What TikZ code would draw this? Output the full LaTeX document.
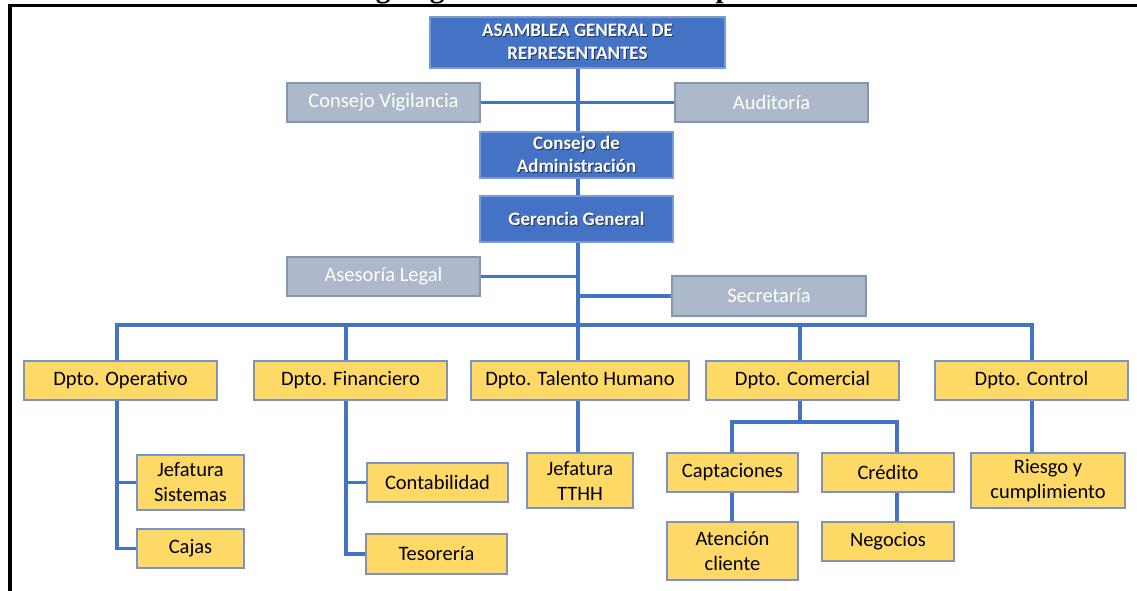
\documentclass[tikz,border=0pt]{standalone}
\usepackage{fontspec}
\setmainfont{Carlito}
\newfontfamily\titlefont{Liberation Serif}
\definecolor{bluef}{HTML}{4472C4}
\definecolor{bbord}{HTML}{7A9AD6}
\definecolor{grayf}{HTML}{ADB9CA}
\definecolor{gbord}{HTML}{8497B0}
\definecolor{yelf}{HTML}{FFD966}
\definecolor{ybord}{HTML}{7F93BA}
\definecolor{connc}{HTML}{4472C4}
\definecolor{shadowc}{HTML}{26355A}
\newcommand{\shd}[1]{\leavevmode\rlap{\kern1pt\raisebox{-1pt}{\color{shadowc}#1}}#1}
\begin{document}
\begin{tikzpicture}[x=1pt,y=-1pt,
  boxbase/.style={draw, line width=1.2pt, inner sep=0pt, align=center},
  yb/.style={boxbase, fill=yelf, draw=ybord, text=black, font=\fontsize{20.5}{25}\selectfont},
  gb/.style={boxbase, fill=grayf, draw=gbord, text=white, font=\fontsize{20.5}{24}\selectfont},
  bb/.style={boxbase, fill=bluef, draw=bbord, text=white, font=\bfseries\fontsize{19}{23}\selectfont},
  conn/.style={draw=connc, line width=3.5pt, line join=miter}]
\useasboundingbox (0,0) rectangle (1137,591);
\fill[white] (0,0) rectangle (1137,591);
% title fragment (cut off at the top, as in the original)
\begin{scope}
\clip (0,0) rectangle (1137,591);
\node[font=\titlefont\bfseries\fontsize{29.4}{30}\selectfont, anchor=base west, inner sep=0pt] (title) at (339.7,-2.4) {Organigrama estructural Cooperativa};
\end{scope}
% frame
\draw[line width=3.2pt, line join=miter] (10,595) -- (10,5.5) -- (1140,5.5);

% coordinates of the connector bus
\coordinate (b1) at (117,325);
\coordinate (b2) at (346,325);
\coordinate (b3) at (578,325);
\coordinate (b4) at (800,325);
\coordinate (b5) at (1032,325);
\coordinate (cl) at (732,422);
\coordinate (cr) at (897,422);

% top level
\node[bb, minimum width=295, minimum height=51] (asm) at (577.5,42.5) {\shd{ASAMBLEA GENERAL DE}\\\shd{REPRESENTANTES}};
\node[gb, minimum width=193, minimum height=39] (cv) at (383.5,102.5) {Consejo Vigilancia};
\node[gb, minimum width=193, minimum height=39] (aud) at (771.5,102.5) {Auditoría};
\node[bb, minimum width=193, minimum height=46] (cadm) at (576.5,155) {\shd{Consejo de}\\\shd{Administración}};
\node[bb, minimum width=193, minimum height=46] (gg) at (576.5,219) {\shd{Gerencia General}};
\node[gb, minimum width=193, minimum height=39] (al) at (383.5,276.5) {Asesoría Legal};
\node[gb, minimum width=194, minimum height=40] (sec) at (769,296) {Secretaría};

% departments
\node[yb, minimum width=193, minimum height=39] (op) at (120.5,380.5) {Dpto. Operativo};
\node[yb, minimum width=193, minimum height=39] (fin) at (350.5,380.5) {Dpto. Financiero};
\node[yb, minimum width=218, minimum height=39] (th) at (580,380.5) {Dpto. Talento Humano};
\node[yb, minimum width=193, minimum height=39] (com) at (802.5,380.5) {Dpto. Comercial};
\node[yb, minimum width=193, minimum height=39] (ctl) at (1031.5,380.5) {Dpto. Control};

% sub units
\node[yb, minimum width=107, minimum height=55] (js) at (190.5,482.5) {Jefatura\\Sistemas};
\node[yb, minimum width=107, minimum height=39] (caj) at (190.5,548.5) {Cajas};
\node[yb, minimum width=141, minimum height=39] (cont) at (437.5,482.5) {Contabilidad};
\node[yb, minimum width=141, minimum height=40] (tes) at (436.5,554) {Tesorería};
\node[yb, minimum width=106, minimum height=55] (jt) at (580,480.5) {Jefatura\\TTHH};
\node[yb, minimum width=131, minimum height=39] (cap) at (732.5,472.5) {Captaciones};
\node[yb, minimum width=132, minimum height=39] (cred) at (888,472.5) {Crédito};
\node[yb, minimum width=131, minimum height=58] (aten) at (732.5,551) {Atención\\cliente};
\node[yb, minimum width=132, minimum height=39] (neg) at (888,541.5) {Negocios};
\node[yb, minimum width=154, minimum height=55] (risk) at (1048,480.5) {Riesgo y\\cumplimiento};

% connectors
\draw[conn] (asm.south -| b3) -- (cadm.north -| b3);
\draw[conn] (cv.east) -- (aud.west);
\draw[conn] (cadm.south -| b3) -- (gg.north -| b3);
\draw[conn] (gg.south -| b3) -- (b3);
\draw[conn] (al.east) -- (al.east -| b3);
\draw[conn] (sec.west) -- (sec.west -| b3);
\draw[conn] (op.north -| b1) -- (b1) -- (b5) -- (ctl.north -| b5);
\draw[conn] (b2) -- (fin.north -| b2);
\draw[conn] (b3) -- (th.north -| b3);
\draw[conn] (b4) -- (com.north -| b4);
\draw[conn] (op.south -| b1) |- (caj.west);
\draw[conn] (b1 |- js.west) -- (js.west);
\draw[conn] (fin.south -| b2) |- (tes.west);
\draw[conn] (b2 |- cont.west) -- (cont.west);
\draw[conn] (th.south -| b3) -- (jt.north -| b3);
\draw[conn] (com.south -| b4) -- (b4 |- cl);
\draw[conn] (cap.north -| cl) -- (cl) -- (cr) -- (cred.north -| cr);
\draw[conn] (cap.south -| cl) -- (aten.north -| cl);
\draw[conn] (cred.south -| cr) -- (neg.north -| cr);
\draw[conn] (ctl.south -| b5) -- (risk.north -| b5);
\end{tikzpicture}
\end{document}
